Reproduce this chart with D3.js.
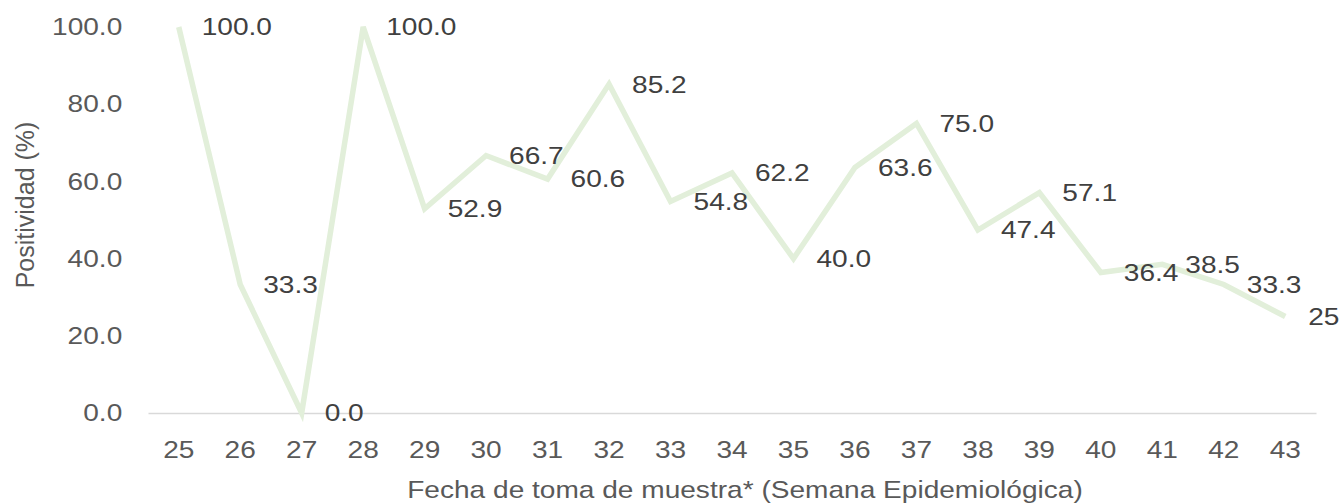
<!DOCTYPE html>
<html>
<head>
<meta charset="utf-8">
<script src="https://cdn.jsdelivr.net/npm/d3@7"></script>
<style>
  body { margin: 0; background: #fff; }
  text { font-family: "Liberation Sans", Arial, sans-serif; }
</style>
</head>
<body>
<svg width="1342" height="504"></svg>
<script>
var weeks = ["25","26","27","28","29","30","31","32","33","34","35","36","37","38","39","40","41","42","43"];
var positividad = [100, 33.3, 0, 100, 52.9, 66.7, 60.6, 85.2, 54.8, 62.2, 40.0, 63.6, 75.0, 47.4, 57.1, 36.4, 38.5, 33.3, 25];
var yTicks = [0, 20, 40, 60, 80, 100];
var valueLabels = ["100.0","33.3","0.0","100.0","52.9","66.7","60.6","85.2","54.8","62.2","40.0","63.6","75.0","47.4","57.1","36.4","38.5","33.3","25"];

var svg = d3.select("svg"),
    plotLeft = 148, plotRight = 1316,
    plotTop = 27, plotBottom = 413,
    stretch = "scale(1.17,1)";

var x = d3.scaleBand().domain(weeks).range([plotLeft, plotRight]);
var y = d3.scaleLinear().domain([0, 100]).range([plotBottom, plotTop]);

// y axis labels, no line
var yAxis = svg.append("g")
    .attr("transform", "translate(" + plotLeft + ",0)")
    .call(d3.axisLeft(y).tickValues(yTicks).tickSize(0).tickPadding(22)
      .tickFormat(function(d) { return d.toFixed(1); }));
yAxis.select(".domain").remove();
yAxis.selectAll("text")
    .attr("transform", stretch)
    .style("font-size", "24px")
    .style("fill", "#595959");

// x axis
var xAxis = svg.append("g")
    .attr("transform", "translate(0," + plotBottom + ")")
    .call(d3.axisBottom(x).tickSize(0).tickPadding(28));
xAxis.select(".domain").attr("stroke", "#d9d9d9").attr("stroke-width", 1.5);
xAxis.selectAll("text")
    .attr("transform", stretch)
    .style("font-size", "24px")
    .style("fill", "#595959");

// line
var line = d3.line()
    .x(function(d, i) { return x(weeks[i]) + x.bandwidth() / 2; })
    .y(function(d) { return y(d); });

svg.append("path")
    .datum(positividad)
    .attr("d", line)
    .attr("fill", "none")
    .attr("stroke", "#e2efda")
    .attr("stroke-width", 5.5)
    .attr("stroke-linejoin", "miter");

// data labels, right of points
svg.selectAll(".lbl")
  .data(positividad)
  .enter().append("g")
    .attr("class", "lbl")
    .attr("transform", function(d, i) {
      return "translate(" + (x(weeks[i]) + x.bandwidth() / 2 + 23) + "," + y(d) + ")";
    })
  .append("text")
    .attr("transform", stretch)
    .attr("dy", "0.35em")
    .style("font-size", "24px")
    .style("fill", "#404040")
    .text(function(d, i) { return valueLabels[i]; });

// titles
svg.append("g")
    .attr("transform", "translate(" + ((plotLeft + plotRight) / 2 + 13) + ",498)")
  .append("text")
    .attr("transform", stretch)
    .attr("text-anchor", "middle")
    .style("font-size", "24px")
    .style("fill", "#595959")
    .text("Fecha de toma de muestra* (Semana Epidemiológica)");

svg.append("text")
    .attr("transform", "translate(34,205) rotate(-90)")
    .attr("text-anchor", "middle")
    .style("font-size", "25px")
    .style("fill", "#595959")
    .text("Positividad (%)");
</script>
</body>
</html>
